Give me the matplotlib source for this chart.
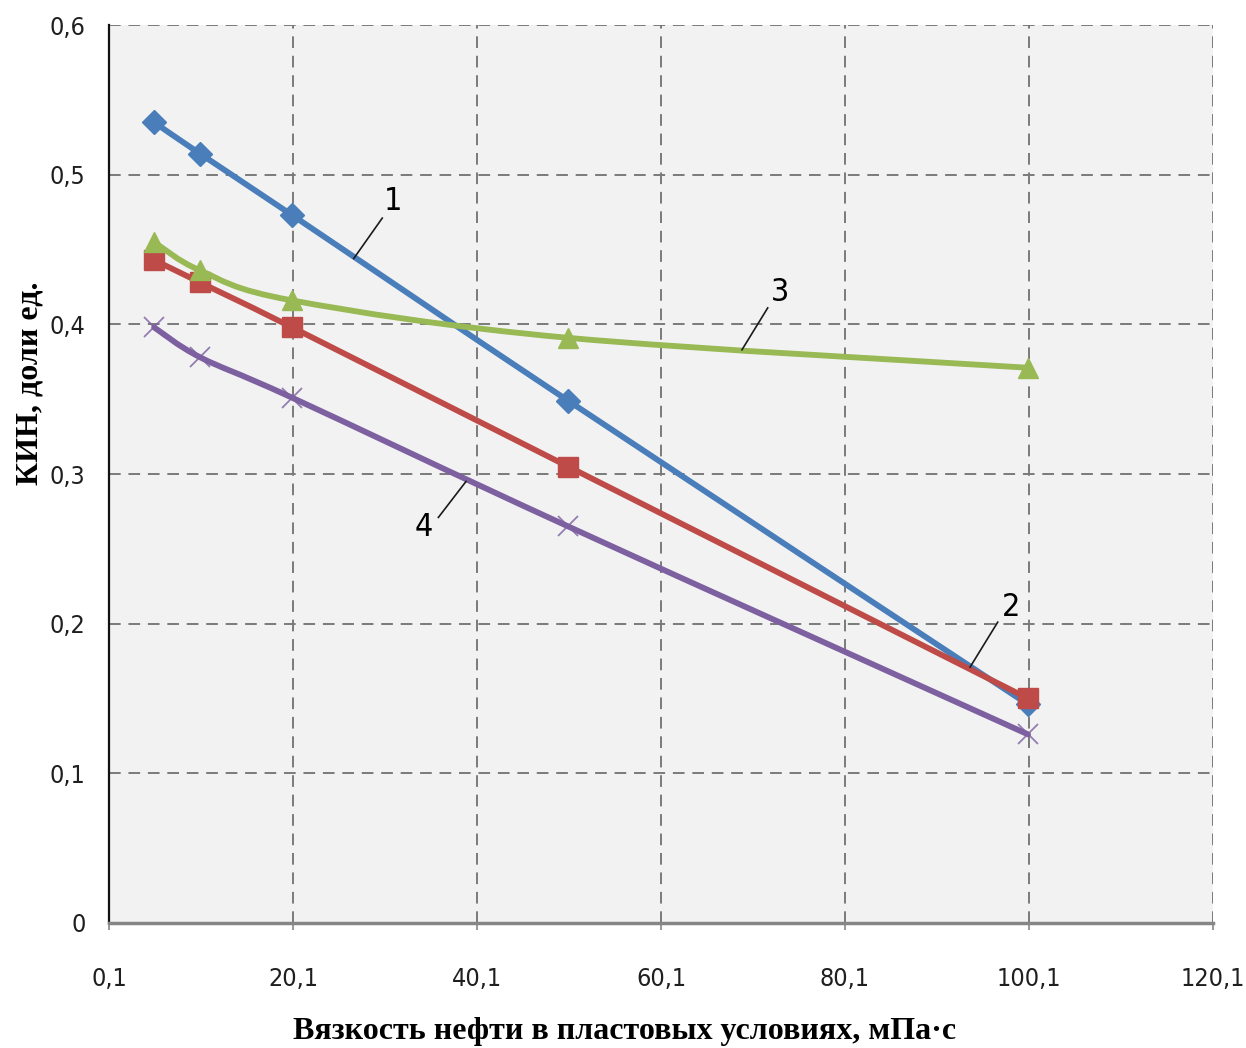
import matplotlib
matplotlib.use('Agg')
import matplotlib.pyplot as plt
from matplotlib.path import Path
from matplotlib.patches import PathPatch
from matplotlib.ticker import FixedLocator, FuncFormatter
from matplotlib import font_manager

# viscosity, mPa*s
visc = [5, 10, 20, 50, 100]

# oil recovery factor for curves 1..4
kin_1 = [0.535, 0.514, 0.473, 0.349, 0.146]
kin_2 = [0.443, 0.428, 0.398, 0.305, 0.150]
kin_3 = [0.455, 0.436, 0.416, 0.391, 0.371]
kin_4 = [0.398, 0.378, 0.351, 0.265, 0.126]

x_ticks = [0.1, 20.1, 40.1, 60.1, 80.1, 100.1, 120.1]
y_ticks = [0, 0.1, 0.2, 0.3, 0.4, 0.5, 0.6]

curve_labels = ['1', '2', '3', '4']
# label text position, leader start, leader end (data coords)
label_pos = [(31.0, 0.482), (98.2, 0.211), (73.0, 0.421), (34.3, 0.264)]
leader_from = [(29.8, 0.471), (96.7, 0.201), (71.7, 0.411), (35.9, 0.271)]
leader_to = [(26.7, 0.444), (93.7, 0.171), (68.9, 0.383), (38.9, 0.295)]

colors = ['#4a7ebb', '#be4b48', '#98b954', '#7d60a0']
markers = ['D', 's', '^', 'x']
msizes = [12, 15, 14, 15]

names = {f.name for f in font_manager.fontManager.ttflist}
if 'Liberation Sans Narrow' in names:
    tick_font = 'Liberation Sans Narrow'
    tick_stretch = 'normal'
else:
    tick_font = 'DejaVu Sans'
    tick_stretch = 'condensed'


# excel-like smooth line: bezier through the points
def smooth_path(xs, ys):
    verts = [(xs[0], ys[0])]
    codes = [Path.MOVETO]
    n = len(xs)
    for i in range(n - 1):
        x0, y0 = (xs[i - 1], ys[i - 1]) if i > 0 else (xs[i], ys[i])
        x1, y1 = xs[i], ys[i]
        x2, y2 = xs[i + 1], ys[i + 1]
        x3, y3 = (xs[i + 2], ys[i + 2]) if i + 2 < n else (x2, y2)
        c1 = (x1 + (x2 - x0) / 6, y1 + (y2 - y0) / 6)
        c2 = (x2 - (x3 - x1) / 6, y2 - (y3 - y1) / 6)
        verts += [c1, c2, (x2, y2)]
        codes += [Path.CURVE4] * 3
    return Path(verts, codes)


fig = plt.figure(figsize=(12.46, 10.48), dpi=100)
ax = fig.add_axes([0.0875, 0.1193, 0.886, 0.8568])
ax.set_facecolor('#f2f2f2')

series = [kin_1, kin_2, kin_3, kin_4]
for i, ys in enumerate(series):
    patch = PathPatch(smooth_path(visc, ys), facecolor='none', edgecolor=colors[i],
                      lw=4.2, capstyle='round', joinstyle='round', zorder=3 + i)
    ax.add_patch(patch)
    ax.plot(visc, ys, linestyle='none', marker=markers[i], ms=msizes[i],
            color=colors[i], mew=1.3 if markers[i] == 'x' else 1, zorder=3 + i,
            alpha=0.8 if markers[i] == 'x' else 1)

for i in range(4):
    ax.plot([leader_from[i][0], leader_to[i][0]], [leader_from[i][1], leader_to[i][1]],
            color='#1a1a1a', lw=1.2, zorder=10)
    ax.text(label_pos[i][0], label_pos[i][1], curve_labels[i], fontsize=23,
            family=tick_font, stretch=tick_stretch, ha='center', va='center', zorder=11)

ax.set_xlim(0.1, 120.1)
ax.set_ylim(0, 0.6)
ax.xaxis.set_major_locator(FixedLocator(x_ticks))
ax.yaxis.set_major_locator(FixedLocator(y_ticks))
ax.xaxis.set_major_formatter(FuncFormatter(lambda v, p: ('%.1f' % v).replace('.', ',')))
ax.yaxis.set_major_formatter(FuncFormatter(lambda v, p: '0' if v == 0 else ('%.1f' % v).replace('.', ',')))

ax.grid(True, color='#7a7a7a', linestyle=(0, (6, 4)), lw=1.4, zorder=1)
ax.set_axisbelow(True)

for s in ['top', 'right']:
    ax.spines[s].set_visible(False)
ax.spines['left'].set_color('#111111')
ax.spines['left'].set_linewidth(1.6)
ax.spines['bottom'].set_color('#868686')
ax.spines['bottom'].set_linewidth(2.5)

ax.tick_params(axis='x', length=5, width=1.2, color='#868686', pad=27, labelsize=18)
ax.tick_params(axis='y', length=0, pad=17, labelsize=18)
for lbl in ax.get_xticklabels() + ax.get_yticklabels():
    lbl.set_family(tick_font)
    lbl.set_stretch(tick_stretch)
    lbl.set_color('#1f1f1f')

ax.set_xlabel('Вязкость нефти в пластовых условиях, мПа·с', fontsize=23,
              family='Liberation Serif', fontweight='bold')
ax.set_ylabel('КИН, доли ед.', fontsize=23, family='Liberation Serif',
              fontweight='bold')
ax.xaxis.set_label_coords(0.467, -0.121)
ax.xaxis.label.set_va('center')
ax.yaxis.set_label_coords(-0.0716, 0.601)
ax.yaxis.label.set_va('center')
ax.yaxis.label.set_ha('center')

fig.savefig('out.png', dpi=100, facecolor='white')
